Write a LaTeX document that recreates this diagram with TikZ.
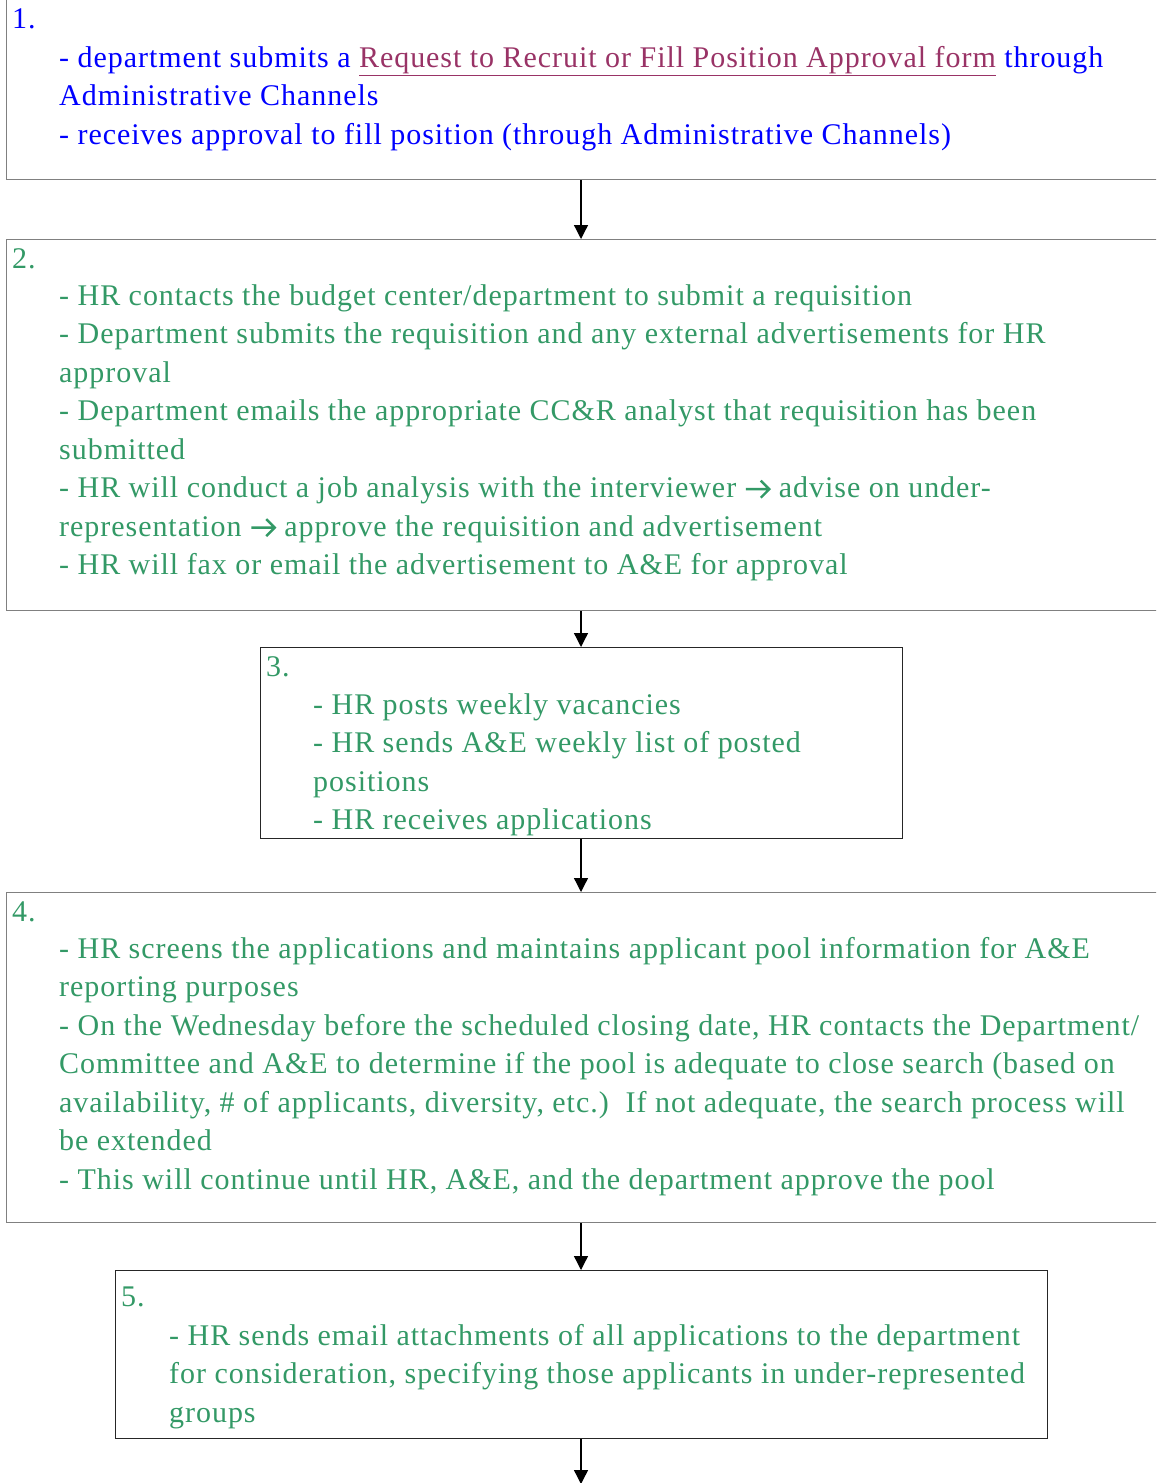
\documentclass[tikz,border=0pt]{standalone}
\usepackage{fontspec}
\setmainfont{Liberation Serif}[LetterSpace=3.2]
\usetikzlibrary{arrows.meta}
\definecolor{txtblue}{HTML}{0000FF}
\definecolor{txtgreen}{HTML}{339966}
\definecolor{linkred}{HTML}{993366}
\definecolor{bordergray}{HTML}{808080}
\newcommand{\rarr}{\tikz[baseline=0pt, x=1bp, y=1bp]\draw[txtgreen, line width=2.4bp, line join=miter] (0,8.5)--(23,8.5) (15,0)--(23.5,8.5)--(15,17);}
\tikzset{
  gbox/.style={draw=bordergray, line width=1.4bp, inner sep=0pt, anchor=north west},
  kbox/.style={draw=black!85, line width=1.2bp, inner sep=0pt, anchor=north west},
  numtxt/.style={inner sep=0pt, anchor=base west, font=\fontsize{30bp}{38.5bp}\selectfont},
  bodytxt/.style={inner sep=0pt, anchor=north west, align=left, font=\fontsize{30bp}{38.5bp}\selectfont},
  arr/.style={line width=1.3bp, black, -{Triangle[width=14bp,length=14bp]}}
}
\begin{document}
\begin{tikzpicture}[x=1bp,y=-1bp]
\clip (0,0) rectangle (1156,1483);
\useasboundingbox (0,0) rectangle (1156,1483);
\coordinate (ax) at (581,0);
\coordinate (endpt) at (581,1484);
% boxes
\node[gbox, minimum width=1250bp, minimum height=185bp] (box1) at (6,-6) {};
\node[gbox, minimum width=1250bp, minimum height=371bp] (box2) at (6,239) {};
\node[kbox, minimum width=642bp, minimum height=191bp] (box3) at (260,647) {};
\node[gbox, minimum width=1250bp, minimum height=330bp] (box4) at (6,892) {};
\node[kbox, minimum width=932bp, minimum height=168bp] (box5) at (115,1270) {};
% box 1
\node[numtxt, text=txtblue] (n1) at (12,29) {1.};
\node[bodytxt, text=txtblue] (t1) at (59,40) {\strut- department submits a {\color{linkred}\underline{Request to Recruit or Fill Position Approval form}} through\\
Administrative Channels\\
- receives approval to fill position (through Administrative Channels)};
% box 2
\node[numtxt, text=txtgreen] (n2) at (12,268) {2.};
\node[bodytxt, text=txtgreen] (t2) at (59,278) {\strut- HR contacts the budget center/department to submit a requisition\\
- Department submits the requisition and any external advertisements for HR\\
approval\\
- Department emails the appropriate CC\&R analyst that requisition has been\\
submitted\\
- HR will conduct a job analysis with the interviewer \rarr{} advise on under-\\
representation \rarr{} approve the requisition and advertisement\\
- HR will fax or email the advertisement to A\&E for approval};
% box 3
\node[numtxt, text=txtgreen] (n3) at (266,676) {3.};
\node[bodytxt, text=txtgreen] (t3) at (313,687) {\strut- HR posts weekly vacancies\\
- HR sends A\&E weekly list of posted\\
positions\\
- HR receives applications};
% box 4
\node[numtxt, text=txtgreen] (n4) at (12,921) {4.};
\node[bodytxt, text=txtgreen] (t4) at (59,931) {\strut- HR screens the applications and maintains applicant pool information for A\&E\\
reporting purposes\\
- On the Wednesday before the scheduled closing date, HR contacts the Department/\\
Committee and A\&E to determine if the pool is adequate to close search (based on\\
availability, \# of applicants, diversity, etc.)\ \ If not adequate, the search process will\\
be extended\\
- This will continue until HR, A\&E, and the department approve the pool};
% box 5
\node[numtxt, text=txtgreen] (n5) at (121,1306) {5.};
\node[bodytxt, text=txtgreen] (t5) at (169,1318) {\strut- HR sends email attachments of all applications to the department\\
for consideration, specifying those applicants in under-represented\\
groups};
% arrows
\draw[arr] (box1.south -| ax) -- (box2.north -| ax);
\draw[arr] (box2.south -| ax) -- (box3.north -| ax);
\draw[arr] (box3.south -| ax) -- (box4.north -| ax);
\draw[arr] (box4.south -| ax) -- (box5.north -| ax);
\draw[arr] (box5.south -| ax) -- (endpt);
\end{tikzpicture}
\end{document}
